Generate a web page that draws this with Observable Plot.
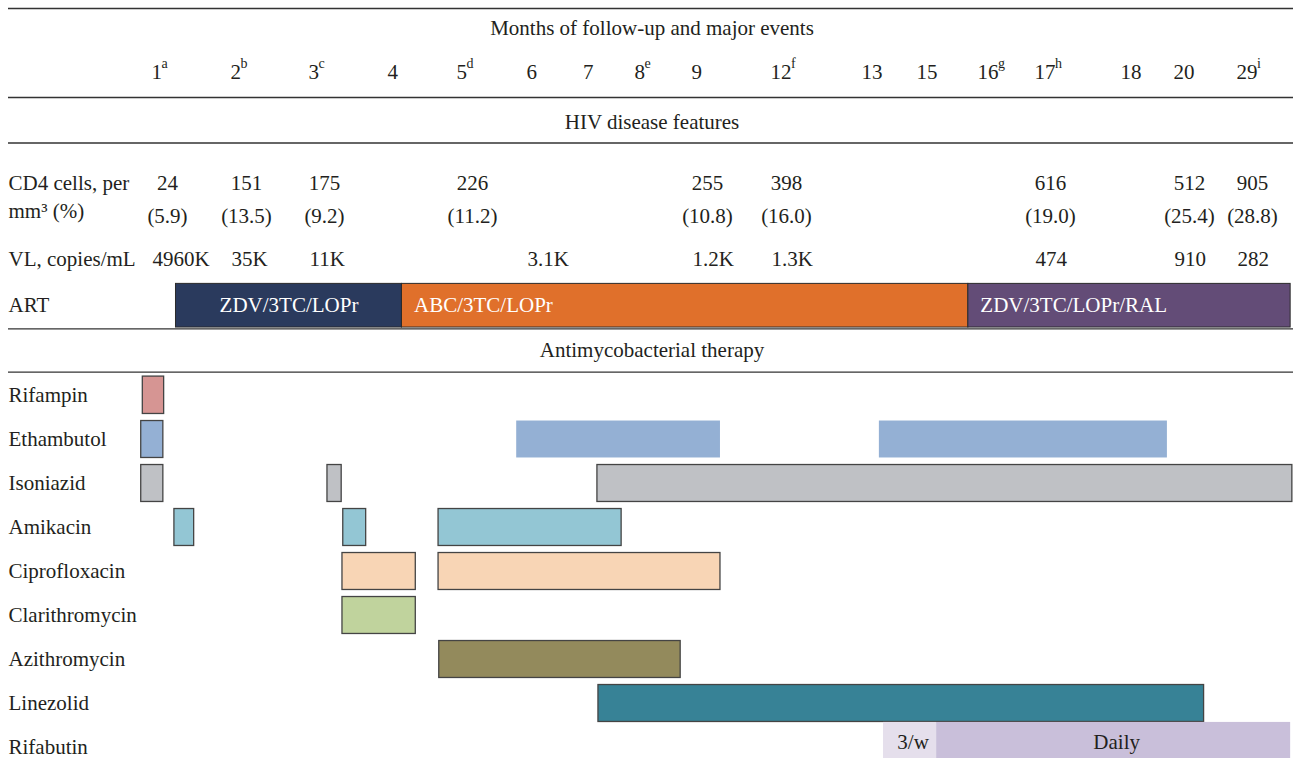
<!DOCTYPE html>
<html><head><meta charset="utf-8">
<script src="https://cdn.jsdelivr.net/npm/d3@7"></script>
<script src="https://cdn.jsdelivr.net/npm/@observablehq/plot@0.6"></script>
<style>body{margin:0;background:#fff} svg{display:block}</style>
</head><body><div id="chart"></div>
<script>
// ---------- data ----------
const months = [1, 2, 3, 4, 5, 6, 7, 8, 9, 12, 13, 15, 16, 17, 18, 20, 29];
const monthNotes = ["a", "b", "c", "", "d", "", "", "e", "", "f", "", "", "g", "h", "", "", "i"];

const cd4Months = [1, 2, 3, 5, 9, 12, 17, 20, 29];
const cd4Counts = ["24", "151", "175", "226", "255", "398", "616", "512", "905"];
const cd4Percents = ["(5.9)", "(13.5)", "(9.2)", "(11.2)", "(10.8)", "(16.0)", "(19.0)", "(25.4)", "(28.8)"];

const vlMonths = [1, 2, 3, 6, 9, 12, 17, 20, 29];
const vlValues = ["4960K", "35K", "11K", "3.1K", "1.2K", "1.3K", "474", "910", "282"];

const artRegimens = ["ZDV/3TC/LOPr", "ABC/3TC/LOPr", "ZDV/3TC/LOPr/RAL"];
const artStart = [1.31, 4.21, 15.85];
const artEnd = [4.21, 15.85, 29.95];

const drugs = ["Rifampin", "Ethambutol", "Isoniazid", "Amikacin", "Ciprofloxacin",
  "Clarithromycin", "Azithromycin", "Linezolid", "Rifabutin"];
const courseDrug = ["Rifampin",
  "Ethambutol", "Ethambutol", "Ethambutol",
  "Isoniazid", "Isoniazid", "Isoniazid",
  "Amikacin", "Amikacin", "Amikacin",
  "Ciprofloxacin", "Ciprofloxacin",
  "Clarithromycin",
  "Azithromycin",
  "Linezolid",
  "Rifabutin", "Rifabutin"];
const courseStart = [0.89, 0.87, 5.86, 13.65, 0.87, 3.24, 7.28, 1.29, 3.44, 4.74,
  3.43, 4.74, 3.43, 4.75, 7.30, 13.80, 15.33];
const courseEnd = [1.16, 1.15, 10.10, 19.77, 1.15, 3.42, 29.98, 1.54, 3.73, 7.75,
  4.41, 10.10, 4.41, 8.81, 24.37, 15.33, 29.95];
const courseDose = ["", "", "", "", "", "", "", "", "", "", "", "", "", "", "", "3/w", "Daily"];

const sectionTitles = ["Months of follow-up and major events", "HIV disease features", "Antimycobacterial therapy"];
const rowLabels = ["CD4 cells, per", "mm³ (%)", "VL, copies/mL", "ART"];

// ---------- layout ----------
const rowKeys = ["title", "months", "hiv", "cd4", "cd4pct", "vl", "art", "amt", ...drugs];
const rowPx = [28, 72, 122, 183, 216, 259, 305, 350, 395, 439, 483, 527, 571, 615, 659, 703, 747];
const r = k => rowKeys.indexOf(k);
const xDomain = [0, ...months, 30];
const colPx = [72, 151, 230, 308, 387, 456, 526, 582.5, 634, 691, 770, 861, 916, 977, 1034, 1120, 1173, 1236, 1293];
// helper: month value at the visual centre of an interval (same piecewise mapping as the x scale)
const xMap = d3.scaleLinear(xDomain, colPx);
const visualMid = (a, b) => xMap.invert((xMap(a) + xMap(b)) / 2);

// ---------- tables ----------
const monthTable = months.map((m, i) => ({month: m, note: monthNotes[i]}));
const cd4Table = cd4Months.map((m, i) => ({month: m, count: cd4Counts[i], pct: cd4Percents[i]}));
const vlTable = vlMonths.map((m, i) => ({month: m, value: vlValues[i]}));
const artTable = artRegimens.map((name, i) => ({name, start: artStart[i], end: artEnd[i], i}));
const courses = courseDrug.map((drug, i) => ({drug, start: courseStart[i], end: courseEnd[i], dose: courseDose[i]}));

const artColors = {"ZDV/3TC/LOPr": "#2a3a5d", "ABC/3TC/LOPr": "#e0702b", "ZDV/3TC/LOPr/RAL": "#634c77"};
const drugColors = {
  Rifampin: "#d69593", Ethambutol: "#94b0d4", Isoniazid: "#bfc1c5", Amikacin: "#93c6d4",
  Ciprofloxacin: "#f8d5b5", Clarithromycin: "#c0d39d", Azithromycin: "#938a5c", Linezolid: "#378296"
};
const doseColors = {"3/w": "#e5dfec", "Daily": "#c9bfda"};
const noOutline = d => d.drug === "Rifabutin" || (d.drug === "Ethambutol" && d.start > 2);
const ink = "#231f20";
const font = "'Liberation Serif', 'Times New Roman', serif";
const fs = 21;

const plot = Plot.plot({
  width: 1293,
  height: 769,
  marginLeft: 8, marginRight: 0, marginTop: 0, marginBottom: 0,
  style: {fontFamily: font, fontSize: fs + "px", color: ink, background: "#fff"},
  x: {type: "linear", domain: xDomain, range: colPx, axis: null},
  y: {type: "linear", domain: rowKeys.map((k, i) => i), range: rowPx, axis: null},
  marks: [
    // ART bars
    Plot.rect(artTable, {
      x1: "start", x2: "end",
      y1: () => r("art") - 0.47, y2: () => r("art") + 0.49,
      fill: d => artColors[d.name], stroke: "#2b2b2b", strokeWidth: 1
    }),
    // section rules
    Plot.ruleY([-0.455, 1.5, 2.336, 6.52, 7.48], {stroke: "#333", strokeWidth: 1.4}),
    // drug courses
    Plot.rect(courses.filter(d => d.drug !== "Rifabutin"), {
      x1: "start", x2: "end",
      y1: d => r(d.drug) - 0.42, y2: d => r(d.drug) + 0.42,
      fill: d => drugColors[d.drug],
      stroke: d => noOutline(d) ? "none" : "#444", strokeWidth: 1.3
    }),
    Plot.rect(courses.filter(d => d.drug === "Rifabutin"), {
      x1: "start", x2: "end",
      y1: d => r(d.drug) - 0.57, y2: d => r(d.drug) + 0.25,
      fill: d => doseColors[d.dose]
    }),
    Plot.text(courses.filter(d => d.dose), {
      x: d => visualMid(d.start, d.end), y: d => r(d.drug) - 0.12,
      text: "dose", fill: ink, fontSize: fs, dx: 3
    }),
    // ART labels
    Plot.text(artTable.filter(d => d.i === 0), {
      x: d => visualMid(d.start, d.end), y: () => r("art"),
      text: "name", fill: "#fff", fontSize: fs
    }),
    Plot.text(artTable.filter(d => d.i > 0), {
      x: "start", y: () => r("art"), dx: 12, textAnchor: "start",
      text: "name", fill: "#fff", fontSize: fs
    }),
    // section titles (centered)
    Plot.text(sectionTitles, {
      y: (d, i) => r(["title", "hiv", "amt"][i]), text: d => d,
      frameAnchor: "middle", dx: 1, fill: ink, fontSize: fs
    }),
    // row labels
    Plot.text(rowLabels, {
      y: (d, i) => [r("cd4"), r("cd4pct") - 0.15, r("vl"), r("art")][i], text: d => d,
      frameAnchor: "left", textAnchor: "start", fill: ink, fontSize: fs
    }),
    Plot.text(drugs, {
      y: d => r(d), text: d => d,
      frameAnchor: "left", textAnchor: "start", fill: ink, fontSize: fs
    }),
    // month labels
    Plot.text(monthTable, {
      x: "month", y: () => r("months"), text: d => String(d.month),
      textAnchor: "start", fill: ink, fontSize: fs
    }),
    Plot.text(monthTable.filter(d => d.note && d.month < 10), {
      x: "month", y: () => r("months"), text: "note",
      textAnchor: "start", dx: 10, dy: -9, fill: ink, fontSize: 14
    }),
    Plot.text(monthTable.filter(d => d.note && d.month >= 10), {
      x: "month", y: () => r("months"), text: "note",
      textAnchor: "start", dx: 20.5, dy: -9, fill: ink, fontSize: 14
    }),
    // CD4 values
    Plot.text(cd4Table, {
      x: "month", y: () => r("cd4"), text: "count",
      dx: 16, fill: ink, fontSize: fs
    }),
    Plot.text(cd4Table, {
      x: "month", y: () => r("cd4pct"), text: "pct",
      dx: 16, fill: ink, fontSize: fs
    }),
    // VL values
    Plot.text(vlTable, {
      x: "month", y: () => r("vl"), text: "value",
      textAnchor: "start", dx: 1, fill: ink, fontSize: fs
    })
  ]
});
document.getElementById("chart").appendChild(plot);
</script>
</body></html>
